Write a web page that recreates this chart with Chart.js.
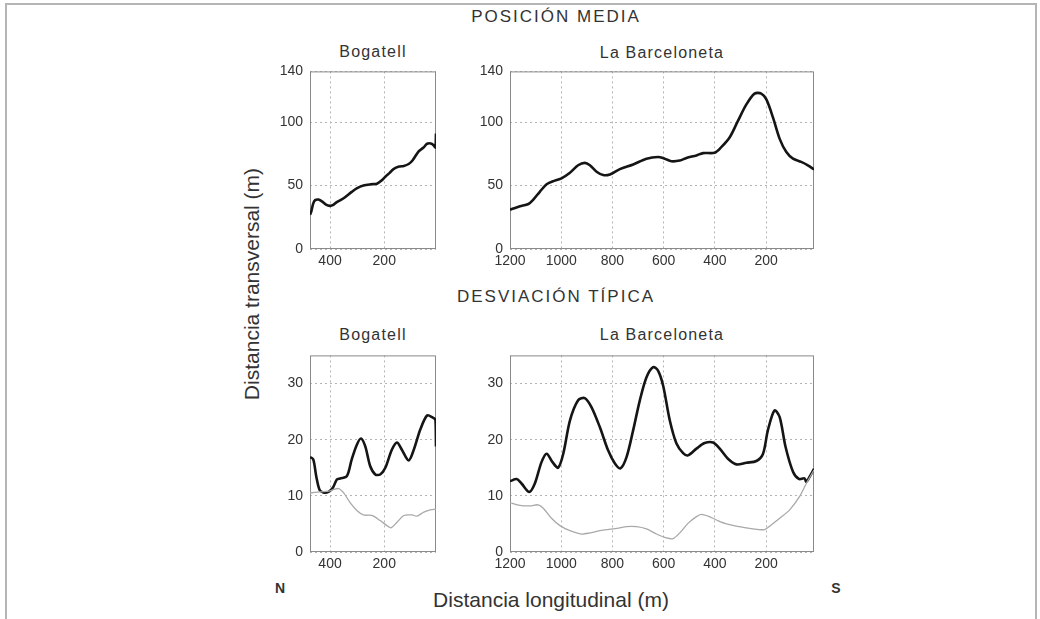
<!DOCTYPE html>
<html>
<head>
<meta charset="utf-8">
<title>Posición media / Desviación típica</title>
<script src="https://cdn.jsdelivr.net/npm/chart.js@4.4.0/dist/chart.umd.min.js"></script>
<style>
  body { margin: 0; background: #fff; width: 1040px; height: 619px; overflow: hidden; position: relative;
         font-family: 'Liberation Sans', Arial, sans-serif; color: #333; }
  .frame { position: absolute; left: 5px; top: 3px; width: 1032px; height: 640px; border: 2px solid #b5b5b5; box-sizing: border-box; }
  canvas { position: absolute; }
  .txt { position: absolute; white-space: nowrap; text-align: center; }
  .big { font-size: 17px; line-height: 20px; letter-spacing: 2px; width: 260px; }
  .sub { font-size: 16px; line-height: 20px; letter-spacing: 1.2px; width: 200px; }
  .axl { font-size: 21px; line-height: 24px; width: 320px; }
  .ns { font-size: 14px; line-height: 18px; font-weight: bold; width: 20px; }
</style>
</head>
<body>
<div class="frame"></div>

<div class="txt big" style="left:426px; top:7px;">POSICIÓN MEDIA</div>
<div class="txt big" style="left:426px; top:287px;">DESVIACIÓN TÍPICA</div>

<div class="txt sub" style="left:273px; top:42px;">Bogatell</div>
<div class="txt sub" style="left:562px; top:43px;">La Barceloneta</div>
<div class="txt sub" style="left:273px; top:325px;">Bogatell</div>
<div class="txt sub" style="left:562px; top:325px;">La Barceloneta</div>

<div class="txt axl" style="left:391px; top:588px;">Distancia longitudinal (m)</div>
<div class="txt axl" style="left:92px; top:272px; transform: rotate(-90deg);">Distancia transversal (m)</div>
<div class="txt ns" style="left:270px; top:579px;">N</div>
<div class="txt ns" style="left:826px; top:579px;">S</div>

<canvas id="c1" width="170" height="223" style="left:270px; top:56px;"></canvas>
<canvas id="c2" width="348" height="223" style="left:470px; top:56px;"></canvas>
<canvas id="c3" width="170" height="242" style="left:270px; top:340px;"></canvas>
<canvas id="c4" width="348" height="242" style="left:470px; top:340px;"></canvas>

<script>
// tick labels
var ticksBog = [200, 400];
var ticksBar = [200, 400, 600, 800, 1000, 1200];
var ticksPos = [0, 50, 100, 140];
var ticksDesv = [0, 10, 20, 30];

// POSICION MEDIA - Bogatell
var bogPosX = [474, 470, 462, 455, 443, 430, 415, 400, 390, 375, 350, 320, 300, 277, 250, 227, 210, 196, 180, 166, 145, 128, 110, 95, 73, 55, 42, 25, 15, 11, 9];
var bogPosY = [27, 29, 36, 38.5, 39, 37.5, 35, 34, 34.5, 37, 40, 45, 48, 50, 51, 51.5, 54, 57, 60, 63, 65, 65.5, 67, 70, 77, 80, 83, 83, 81, 80, 91];

// POSICION MEDIA - La Barceloneta
var barPosX = [1200, 1180, 1161, 1128, 1109, 1083, 1057, 1025, 999, 966, 934, 908, 888, 862, 836, 810, 771, 719, 667, 622, 596, 570, 537, 511, 472, 446, 401, 375, 342, 310, 277, 245, 219, 199, 173, 147, 121, 95, 63, 37, 13];
var barPosY = [31, 32.4, 33.7, 35.5, 38.9, 45.3, 51, 53.9, 55.7, 60.1, 66, 67.9, 66, 60.9, 58.3, 58.8, 63, 66.6, 71.2, 72.5, 71.2, 69.2, 69.7, 71.8, 73.8, 75.6, 75.9, 80.3, 88.1, 101, 114, 122.5, 122.5, 117.9, 103.6, 86.8, 76.4, 71.2, 68.7, 66, 62.7];

// DESVIACION TIPICA - Bogatell
var bogDesvX = [474, 462, 451, 439, 425, 406, 389, 375, 363, 338, 320, 301, 286, 270, 252, 233, 215, 196, 172, 153, 135, 110, 91, 67, 42, 23, 11, 9];
var bogDesvY = [16.9, 16.5, 13.5, 11.1, 10.6, 10.7, 11.5, 12.9, 13.1, 13.5, 16.5, 19.1, 20.2, 18.8, 15.3, 13.8, 13.8, 15, 18.2, 19.5, 18.2, 16.3, 18.2, 21.8, 24.3, 24, 23.5, 18.8];
var bogDesv2X = [474, 437, 400, 369, 351, 326, 301, 277, 246, 215, 190, 175, 153, 128, 98, 79, 54, 30, 9];
var bogDesv2Y = [10.5, 10.7, 10.9, 11.3, 10.6, 8.8, 7.4, 6.6, 6.5, 5.6, 4.7, 4.3, 5.3, 6.5, 6.6, 6.4, 7.1, 7.5, 7.6];

// DESVIACION TIPICA - La Barceloneta
var barDesvX = [1200, 1174, 1155, 1125, 1103, 1077, 1057, 1034, 1012, 992, 966, 934, 908, 882, 849, 817, 791, 769, 745, 719, 693, 667, 641, 622, 602, 576, 550, 524, 505, 472, 440, 407, 381, 349, 316, 277, 238, 212, 193, 167, 147, 124, 95, 72, 50, 43, 30, 13];
var barDesvY = [12.6, 13, 12.2, 10.7, 12.2, 16, 17.5, 16, 15, 17.5, 23.4, 27, 27.4, 25.8, 22.2, 18.1, 15.8, 14.9, 16.9, 21.7, 27, 31.1, 32.9, 32.3, 29.6, 23.4, 19.3, 17.6, 17.2, 18.4, 19.4, 19.5, 18.4, 16.6, 15.6, 15.9, 16.2, 17.5, 21.7, 25.2, 24, 18.7, 14.3, 13, 13.1, 12.5, 13.4, 14.8];
var barDesv2X = [1200, 1161, 1122, 1090, 1070, 1038, 1005, 966, 921, 888, 849, 797, 745, 706, 667, 628, 589, 563, 537, 505, 472, 453, 427, 394, 355, 303, 251, 206, 180, 147, 108, 69, 43, 13];
var barDesv2Y = [8.8, 8.3, 8.2, 8.4, 7.8, 6, 4.7, 3.8, 3.2, 3.4, 3.8, 4.1, 4.5, 4.5, 4.1, 3.2, 2.5, 2.4, 3.4, 5.1, 6.3, 6.7, 6.4, 5.7, 5, 4.5, 4.1, 4, 4.8, 6, 7.5, 9.9, 12.2, 14.6];

var fontFam = "'Liberation Sans', Arial, sans-serif";

function pts(xs, ys) {
    var out = [];
    for (var i in xs) {
        out.push({x: xs[i], y: ys[i]});
    }
    return out;
}

// frame round each plot area
var boxPlugin = {
    id: 'box',
    beforeDatasetsDraw: function(chart) {
        var a = chart.chartArea;
        var ctx = chart.ctx;
        ctx.save();
        ctx.strokeStyle = '#8a8a8a';
        ctx.lineWidth = 1;
        ctx.strokeRect(a.left + 0.5, a.top + 0.5, a.right - a.left - 1, a.bottom - a.top - 1);
        ctx.restore();
    }
};

function blackLine(data) {
    return {data: data, borderColor: '#151515', borderWidth: 2.6, pointRadius: 0, tension: 0.3, fill: false};
}
function grayLine(data) {
    return {data: data, borderColor: '#a9a9a9', borderWidth: 1.3, pointRadius: 0, tension: 0.3, fill: false};
}

function makeChart(id, datasets, xTicks, xMin, xMax, yTicks, yMax) {
    var gridOpts = {color: '#b4b4b4', lineWidth: 1, drawTicks: false};
    var tickFont = {family: fontFam, size: 14};
    return new Chart(document.getElementById(id), {
        type: 'line',
        data: {datasets: datasets},
        options: {
            responsive: false,
            animation: false,
            devicePixelRatio: 1,
            layout: {padding: {top: 12, right: 4, bottom: 0, left: 0}},
            plugins: {legend: {display: false}, tooltip: {enabled: false}},
            scales: {
                x: {
                    type: 'linear',
                    reverse: true,
                    min: xMin,
                    max: xMax,
                    afterBuildTicks: function(s) { s.ticks = xTicks.map(function(v) { return {value: v}; }); },
                    afterFit: function(s) { s.height = 30; },
                    grid: gridOpts,
                    border: {display: false, dash: [2, 3]},
                    ticks: {padding: 4, color: '#333', font: tickFont, maxRotation: 0, autoSkip: false,
                            callback: function(v) { return v; }}
                },
                y: {
                    min: 0,
                    max: yMax,
                    afterBuildTicks: function(s) { s.ticks = yTicks.map(function(v) { return {value: v}; }); },
                    afterFit: function(s) { s.width = 40; },
                    grid: gridOpts,
                    border: {display: false, dash: [2, 3]},
                    ticks: {padding: 7, color: '#333', font: tickFont, autoSkip: false,
                            callback: function(v) { return v; }}
                }
            }
        },
        plugins: [boxPlugin]
    });
}

makeChart('c1', [blackLine(pts(bogPosX, bogPosY))], ticksBog, 9, 474, ticksPos, 140);
makeChart('c2', [blackLine(pts(barPosX, barPosY))], ticksBar, 13, 1200, ticksPos, 140);
makeChart('c3', [grayLine(pts(bogDesv2X, bogDesv2Y)), blackLine(pts(bogDesvX, bogDesvY))], ticksBog, 9, 474, ticksDesv, 35);
makeChart('c4', [grayLine(pts(barDesv2X, barDesv2Y)), blackLine(pts(barDesvX, barDesvY))], ticksBar, 13, 1200, ticksDesv, 35);
</script>
</body>
</html>
